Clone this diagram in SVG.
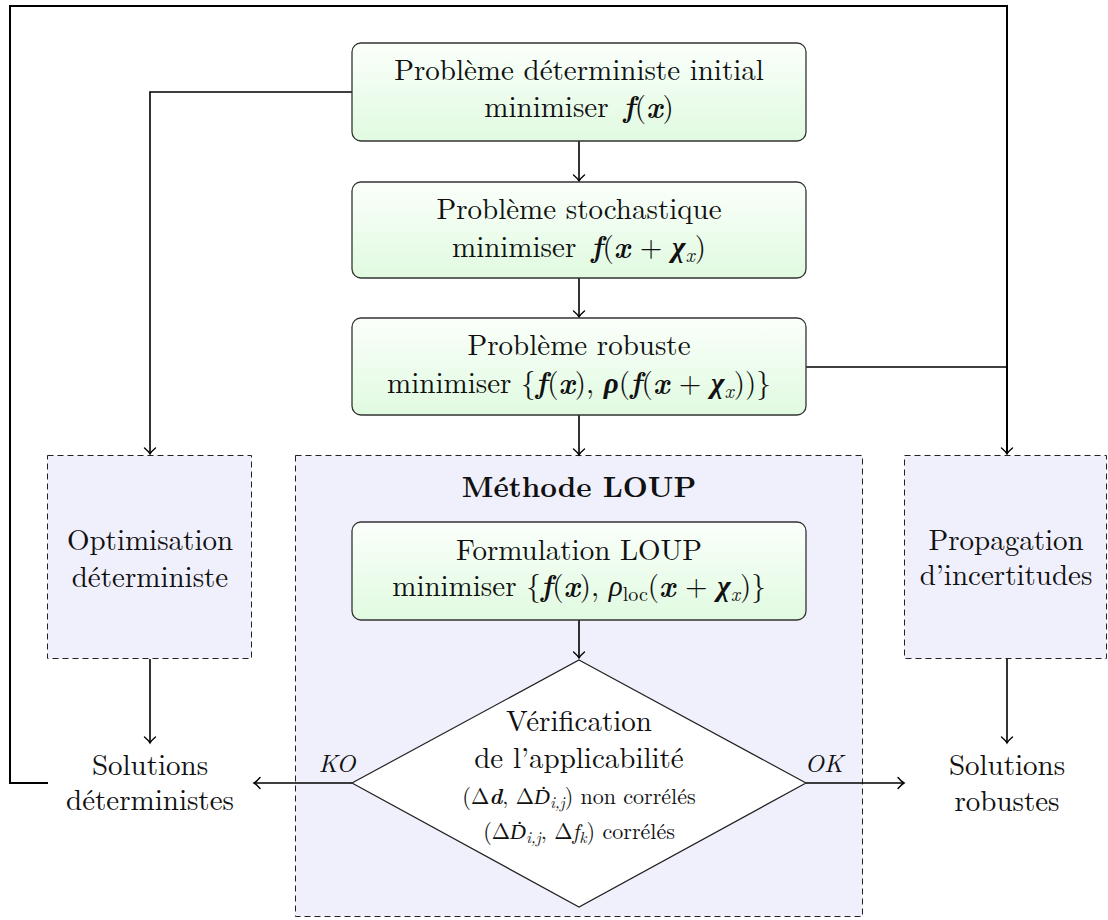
<svg xmlns="http://www.w3.org/2000/svg" width="1108" height="920" viewBox="0 0 1108 920">
<defs>
<linearGradient id="g" x1="0" y1="0" x2="0" y2="1">
<stop offset="0" stop-color="#fbfffb"/>
<stop offset="1" stop-color="#e0fae0"/>
</linearGradient>
<marker id="ar" markerUnits="userSpaceOnUse" viewBox="-8 -7 10 14" refX="0" refY="0" markerWidth="10" markerHeight="14" orient="auto" overflow="visible">
<path d="M-6,-5.5 C-3.5,-2.5 -1.2,-0.6 0,0 C-1.2,0.6 -3.5,2.5 -6,5.5" fill="none" stroke="#000" stroke-width="1.4" stroke-linecap="round"/>
</marker>
<style>
.t{font-family:"Latin Modern Roman","Liberation Serif",serif;font-size:29px;fill:#111;text-anchor:middle}
.bi{font-weight:bold;font-style:italic}
.it{font-style:italic}
.sub{font-size:20px}
.s{font-family:"Latin Modern Roman","Liberation Serif",serif;font-size:22px;fill:#111;text-anchor:middle}
.ss{font-size:16px;font-style:italic}
.dd{font-family:"Liberation Serif",serif;font-style:italic}
.lab{font-family:"Latin Modern Roman","Liberation Serif",serif;font-size:25px;font-style:italic;fill:#111;text-anchor:middle}
.box{fill:url(#g);stroke:#333;stroke-width:1.3}
.dash{fill:#f0f0fc;stroke:#222;stroke-width:1;stroke-dasharray:6 4}
.c{fill:none;stroke:#000;stroke-width:1.6}
.fb{fill:none;stroke:#000;stroke-width:2}
</style>
</defs>
<rect width="1108" height="920" fill="#fff"/>

<g id="loup">
<rect class="dash" x="295.5" y="455.5" width="567" height="461"/>
<text class="t" x="579" y="497" font-weight="bold">Méthode LOUP</text>
</g>
<g id="optim">
<rect class="dash" x="47.5" y="455.5" width="204" height="203"/>
<text class="t" x="150" y="550">Optimisation</text>
<text class="t" x="150" y="587">déterministe</text>
</g>
<g id="propag">
<rect class="dash" x="904.5" y="455.5" width="202" height="203"/>
<text class="t" x="1006" y="550">Propagation</text>
<text class="t" x="1006" y="585">d’incertitudes</text>
</g>

<g id="connectors">
<path class="fb" d="M48,783 H10 V6 H1007 V454" marker-end="url(#ar)"/>
<path class="c" d="M806,367 H1007"/>
<path class="c" d="M352,92 H150 V454" marker-end="url(#ar)"/>
<path class="c" d="M579,141 V181" marker-end="url(#ar)"/>
<path class="c" d="M579,278 V317" marker-end="url(#ar)"/>
<path class="c" d="M579,415 V455" marker-end="url(#ar)"/>
<path class="c" d="M579,620 V658" marker-end="url(#ar)"/>
<path class="c" d="M150,659 V743" marker-end="url(#ar)"/>
<path class="c" d="M1007,659 V743" marker-end="url(#ar)"/>
<path class="c" d="M352,783 H254" marker-end="url(#ar)"/>
<path class="c" d="M806,783 H904" marker-end="url(#ar)"/>
</g>

<g id="box1">
<rect class="box" x="352" y="43" width="454" height="98" rx="9"/>
<text class="t" x="579" y="80">Problème déterministe initial</text>
<text class="t" x="579" y="117">minimiser <tspan class="bi" dx="5">f</tspan>(<tspan class="bi">x</tspan>)</text>
</g>
<g id="box2">
<rect class="box" x="352" y="182" width="454" height="96" rx="9"/>
<text class="t" x="579" y="219">Problème stochastique</text>
<text class="t" x="579" y="257">minimiser <tspan class="bi" dx="5">f</tspan>(<tspan class="bi">x</tspan> + <tspan class="bi">χ</tspan><tspan class="it sub" dy="5">x</tspan><tspan dy="-5">)</tspan></text>
</g>
<g id="box3">
<rect class="box" x="352" y="318" width="454" height="97" rx="9"/>
<text class="t" x="579" y="355">Problème robuste</text>
<text class="t" x="579" y="393">minimiser {<tspan class="bi">f</tspan>(<tspan class="bi">x</tspan>), <tspan class="bi">ρ</tspan>(<tspan class="bi">f</tspan>(<tspan class="bi">x</tspan> + <tspan class="bi">χ</tspan><tspan class="it sub" dy="5">x</tspan><tspan dy="-5">))}</tspan></text>
</g>
<g id="formulation">
<rect class="box" x="352" y="522" width="454" height="98" rx="9"/>
<text class="t" x="579" y="560">Formulation LOUP</text>
<text class="t" x="579" y="596">minimiser {<tspan class="bi">f</tspan>(<tspan class="bi">x</tspan>), <tspan class="it">ρ</tspan><tspan class="sub" dy="5">loc</tspan><tspan dy="-5">(</tspan><tspan class="bi">x</tspan> + <tspan class="bi">χ</tspan><tspan class="it sub" dy="5">x</tspan><tspan dy="-5">)}</tspan></text>
</g>
<g id="verif">
<polygon points="579,660 806,783 579,907 352,783" fill="#fff" stroke="#222" stroke-width="1.2"/>
<text class="t" x="579" y="731">Vérification</text>
<text class="t" x="579" y="768">de l’applicabilité</text>
<text class="s" x="579" y="804">(Δ<tspan class="bi">d</tspan>, Δ<tspan class="dd">Ḋ</tspan><tspan class="ss" dy="4">i,j</tspan><tspan dy="-4">) non corrélés</tspan></text>
<text class="s" x="579" y="839">(Δ<tspan class="dd">Ḋ</tspan><tspan class="ss" dy="4">i,j</tspan><tspan dy="-4">, Δ</tspan><tspan class="it">f</tspan><tspan class="ss" dy="4">k</tspan><tspan dy="-4">) corrélés</tspan></text>
</g>
<g id="labels">
<text class="lab" x="337" y="772">KO</text>
<text class="lab" x="824" y="772">OK</text>
</g>
<g id="soldet">
<text class="t" x="150" y="775">Solutions</text>
<text class="t" x="150" y="810">déterministes</text>
</g>
<g id="solrob">
<text class="t" x="1007" y="775">Solutions</text>
<text class="t" x="1007" y="811">robustes</text>
</g>
</svg>
